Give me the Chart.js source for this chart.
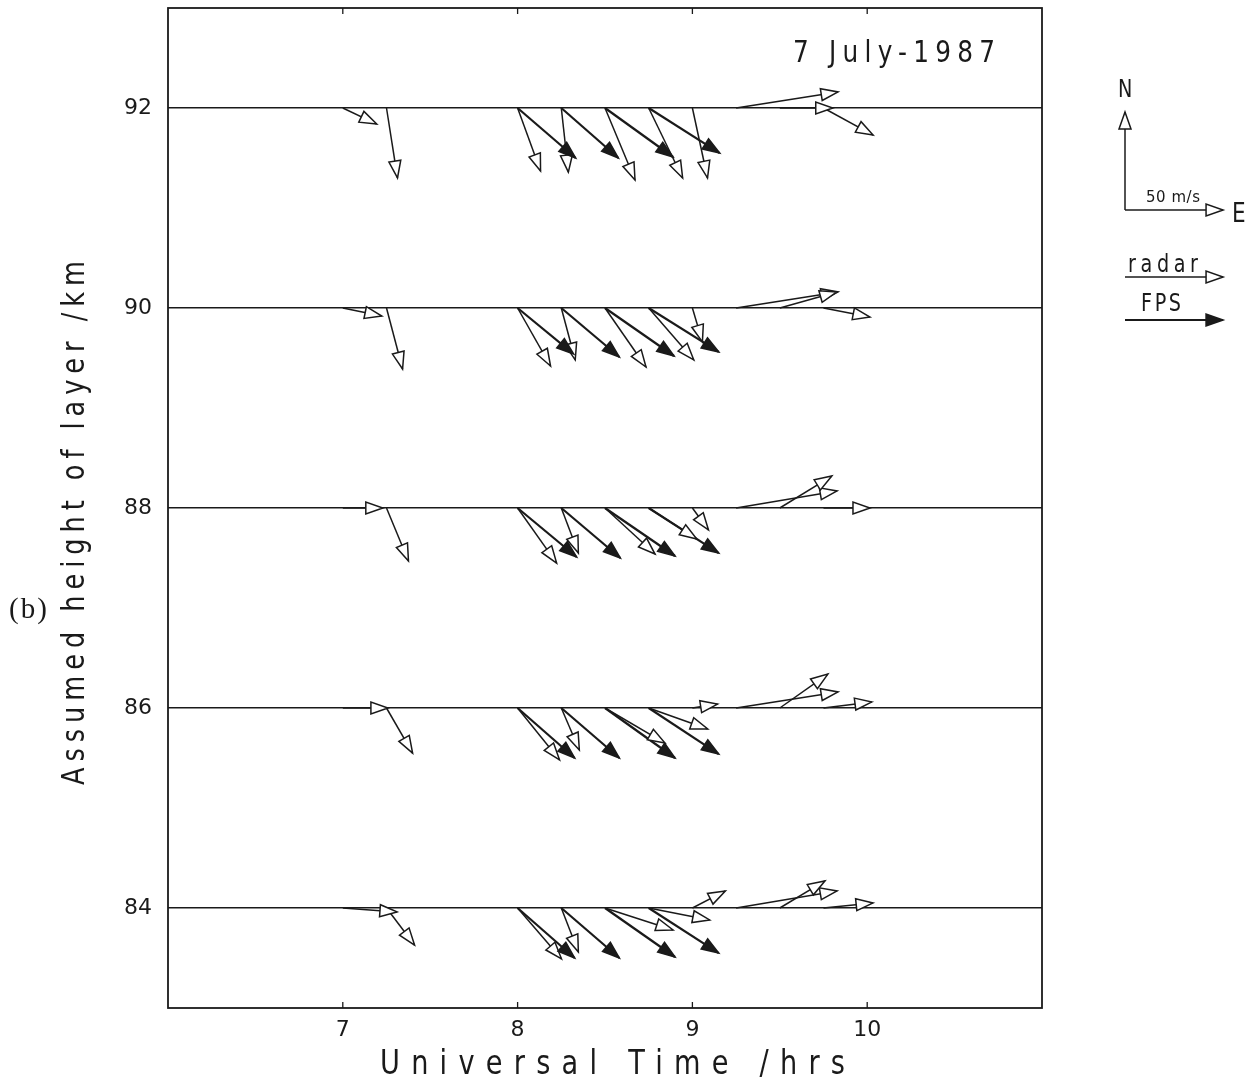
<!DOCTYPE html>
<html>
<head>
<meta charset="utf-8">
<script src="https://cdn.jsdelivr.net/npm/chart.js@4.4.0/dist/chart.umd.min.js"></script>
<style>
  html, body { margin: 0; padding: 0; background: #ffffff; }
  canvas { display: block; }
</style>
</head>
<body>
<canvas id="windChart" width="1255" height="1080"></canvas>
<script>
// Layer heights (km) and axis ticks
const heights = [92, 90, 88, 86, 84];
const heightTicks = [84, 86, 88, 90, 92];
const timeTicks = [7, 8, 9, 10];

// Radar winds: start times (UT hours), eastward and northward components (m/s), one row per height
const radarTimes = [7.0, 7.25, 8.0, 8.25, 8.5, 8.75, 9.0, 9.25, 9.5, 9.75];
const radarEast = [
  [17.3, 5.6, 11.7, 3.6, 15.3, 17.3, 7.7, 52.0, 27.0, 25.3],
  [19.9, 8.2, 16.8, 7.1, 20.9, 23.0, 5.1, 52.0, 29.1, 23.7],
  [20.4, 11.2, 19.9, 8.7, 25.5, 24.5, 8.2, 51.5, 26.5, 23.7],
  [23.0, 13.3, 21.4, 9.2, 30.6, 30.1, 12.8, 52.0, 24.5, 24.7],
  [27.6, 14.3, 22.4, 8.7, 34.7, 31.1, 16.8, 51.5, 23.0, 25.3]
];
const radarNorth = [
  [-8.2, -35.7, -32.1, -32.7, -36.7, -35.7, -35.7, 8.2, 0.0, -13.8],
  [-4.1, -31.1, -29.6, -26.5, -30.1, -26.5, -17.3, 8.2, 8.2, -4.6],
  [0.0, -27.0, -28.1, -23.0, -23.5, -15.8, -11.2, 8.7, 16.3, 0.0],
  [0.0, -23.0, -26.5, -21.4, -17.9, -10.7, 2.0, 8.2, 17.3, 3.1],
  [-2.0, -18.9, -26.0, -22.4, -11.2, -6.1, 8.7, 8.7, 13.8, 2.6]
];

// FPS winds: start times, eastward and northward components (m/s), one row per height
const fpsTimes = [8.0, 8.25, 8.5, 8.75];
const fpsEast = [
  [29.6, 29.1, 34.7, 36.2],
  [28.6, 29.6, 35.2, 35.7],
  [30.1, 30.1, 35.7, 35.7],
  [29.1, 29.6, 35.7, 35.7],
  [29.1, 29.6, 35.7, 35.7]
];
const fpsNorth = [
  [-25.5, -25.5, -25.0, -23.0],
  [-23.5, -25.0, -24.5, -22.4],
  [-25.0, -25.5, -24.5, -23.0],
  [-25.5, -25.5, -25.5, -23.5],
  [-25.5, -25.5, -25.0, -23.0]
];

// Reference speed for the key and vector scaling in axis units
const refSpeed = 50;
const hoursPerMs = 0.561 / refSpeed;
const kmPerMs = 0.98 / refSpeed;

const INK = '#1a1a1a';
const FONT = '"DejaVu Sans", sans-serif';
const RADAR_WIDTH = 1.5;
const FPS_WIDTH = 2.2;

function arrowDataset(t, h, u, v, kind) {
  return {
    kind: kind,
    data: [{ x: t, y: h }, { x: t + u * hoursPerMs, y: h + v * kmPerMs }],
    showLine: true,
    borderColor: INK,
    borderWidth: kind === 'fps' ? FPS_WIDTH : RADAR_WIDTH,
    pointRadius: 0,
    pointHoverRadius: 0,
    fill: false,
    tension: 0
  };
}

const datasets = [];
heights.forEach((h, i) => {
  radarTimes.forEach((t, j) => datasets.push(arrowDataset(t, h, radarEast[i][j], radarNorth[i][j], 'radar')));
  fpsTimes.forEach((t, j) => datasets.push(arrowDataset(t, h, fpsEast[i][j], fpsNorth[i][j], 'fps')));
});

function drawHead(ctx, x0, y0, x1, y1, filled) {
  const a = Math.atan2(y1 - y0, x1 - x0);
  const L = 17, W = 6;
  const dx = Math.cos(a), dy = Math.sin(a);
  const bx = x1 - L * dx, by = y1 - L * dy;
  ctx.save();
  ctx.beginPath();
  ctx.moveTo(x1, y1);
  ctx.lineTo(bx - W * dy, by + W * dx);
  ctx.lineTo(bx + W * dy, by - W * dx);
  ctx.closePath();
  ctx.fillStyle = filled ? INK : '#ffffff';
  ctx.fill();
  ctx.lineWidth = 1.5;
  ctx.lineJoin = 'miter';
  ctx.strokeStyle = INK;
  ctx.stroke();
  ctx.restore();
}

function drawArrow(ctx, x0, y0, x1, y1, filled) {
  ctx.save();
  ctx.beginPath();
  ctx.moveTo(x0, y0);
  ctx.lineTo(x1, y1);
  ctx.lineWidth = filled ? FPS_WIDTH : RADAR_WIDTH;
  ctx.strokeStyle = INK;
  ctx.stroke();
  ctx.restore();
  drawHead(ctx, x0, y0, x1, y1, filled);
}

// Narrow, letter-spaced text filling a given width (plotter style lettering)
function spacedText(ctx, text, left, baseline, width, squeeze) {
  const sx = squeeze || 1;
  ctx.save();
  ctx.fillStyle = INK;
  ctx.translate(left, baseline);
  ctx.scale(sx, 1);
  ctx.letterSpacing = '0px';
  const natural = ctx.measureText(text).width;
  const gap = text.length > 1 ? (width / sx - natural) / (text.length - 1) : 0;
  ctx.letterSpacing = gap + 'px';
  ctx.textAlign = 'left';
  ctx.textBaseline = 'alphabetic';
  ctx.fillText(text, 0, 0);
  ctx.restore();
}

const arrowHeads = {
  id: 'arrowHeads',
  afterDatasetsDraw(chart) {
    const ctx = chart.ctx;
    chart.data.datasets.forEach((ds, i) => {
      const pts = chart.getDatasetMeta(i).data;
      drawHead(ctx, pts[0].x, pts[0].y, pts[1].x, pts[1].y, ds.kind === 'fps');
    });
  }
};

const frameAndText = {
  id: 'frameAndText',
  afterDraw(chart) {
    const ctx = chart.ctx;
    const a = chart.chartArea;
    const xs = chart.scales.x, ys = chart.scales.y;
    ctx.save();

    // plot frame
    ctx.strokeStyle = INK;
    ctx.lineWidth = 1.8;
    ctx.strokeRect(a.left, a.top, a.right - a.left, a.bottom - a.top);

    // inward time ticks on top and bottom edges
    ctx.lineWidth = 1.3;
    timeTicks.forEach(t => {
      const px = xs.getPixelForValue(t);
      ctx.beginPath();
      ctx.moveTo(px, a.top); ctx.lineTo(px, a.top + 6);
      ctx.moveTo(px, a.bottom); ctx.lineTo(px, a.bottom - 6);
      ctx.stroke();
    });

    // axis titles
    ctx.font = '34px ' + FONT;
    spacedText(ctx, 'Universal Time /hrs', 380, 1074, 465, 0.8);

    ctx.save();
    ctx.translate(84, 523);
    ctx.rotate(-Math.PI / 2);
    ctx.font = '32px ' + FONT;
    spacedText(ctx, 'Assumed height of layer /km', -262, 0, 524, 0.8);
    ctx.restore();

    // date label
    ctx.font = '31px ' + FONT;
    spacedText(ctx, '7 July-1987', 793, 62, 202, 0.8);

    // panel label
    ctx.font = '29px "Liberation Serif", serif';
    spacedText(ctx, '(b)', 9, 618, 38, 1);

    // key: compass with reference speed
    const ox = 1125, oy = 210;
    const lenX = xs.getPixelForValue(timeTicks[0] + refSpeed * hoursPerMs) - xs.getPixelForValue(timeTicks[0]);
    const lenY = ys.getPixelForValue(heightTicks[0]) - ys.getPixelForValue(heightTicks[0] + refSpeed * kmPerMs);
    drawArrow(ctx, ox, oy, ox, oy - lenY, false);
    drawArrow(ctx, ox, oy, ox + lenX, oy, false);

    ctx.font = '24px ' + FONT;
    spacedText(ctx, 'N', 1118, 97, 0, 0.8);
    ctx.font = '27px ' + FONT;
    spacedText(ctx, 'E', 1232, 222, 0, 0.8);
    ctx.font = '15px ' + FONT;
    spacedText(ctx, refSpeed + ' m/s', 1146, 202, 54, 1);

    // key: instrument symbols
    ctx.font = '24px ' + FONT;
    spacedText(ctx, 'radar', 1128, 272, 70, 0.8);
    drawArrow(ctx, ox, 277, ox + lenX, 277, false);
    spacedText(ctx, 'FPS', 1141, 311, 40, 0.8);
    drawArrow(ctx, ox, 320, ox + lenX, 320, true);

    ctx.restore();
  }
};

new Chart(document.getElementById('windChart'), {
  type: 'scatter',
  data: { datasets: datasets },
  options: {
    responsive: false,
    animation: false,
    events: [],
    layout: { padding: { top: 8, right: 213, bottom: 0, left: 0 } },
    plugins: {
      legend: { display: false },
      tooltip: { enabled: false },
      title: { display: false }
    },
    scales: {
      x: {
        type: 'linear',
        min: 6,
        max: 11,
        afterBuildTicks: s => { s.ticks = timeTicks.map(v => ({ value: v })); },
        afterFit: s => { s.height = 72; s.paddingLeft = 0; s.paddingRight = 0; },
        grid: { display: false, drawTicks: false },
        border: { display: false },
        ticks: { color: INK, padding: 9, font: { family: FONT, size: 22 } }
      },
      y: {
        type: 'linear',
        min: 83,
        max: 93,
        afterBuildTicks: s => { s.ticks = heightTicks.map(v => ({ value: v })); },
        afterFit: s => { s.width = 168; s.paddingTop = 0; s.paddingBottom = 0; },
        grid: { color: INK, lineWidth: 1.6, drawTicks: false },
        border: { display: false },
        ticks: { color: INK, padding: 16, font: { family: FONT, size: 22 } }
      }
    }
  },
  plugins: [arrowHeads, frameAndText]
});
</script>
</body>
</html>
